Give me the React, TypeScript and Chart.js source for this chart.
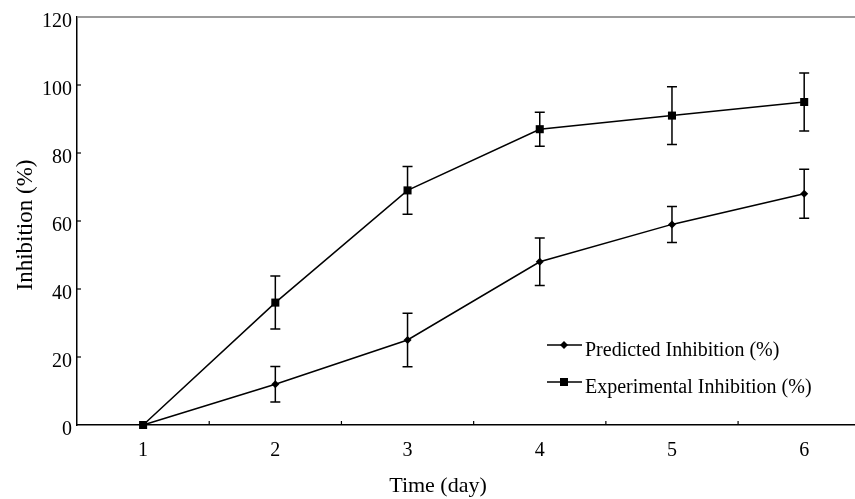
import React, { useEffect, useRef } from "react";
import { Chart, registerables } from "chart.js";

Chart.register(...registerables);

const days = [1, 2, 3, 4, 5, 6];
const predicted = [0, 12, 25, 48, 59, 68];
const predictedErr = [0, 5.2, 7.9, 7, 5.3, 7.2];
const experimental = [0, 36, 69, 87, 91, 95];
const experimentalErr = [0, 7.8, 7, 5, 8.5, 8.5];
const yTicks = [0, 20, 40, 60, 80, 100, 120];
const seriesNames = ["Predicted Inhibition (%)", "Experimental Inhibition (%)"];
const xTitle = "Time (day)";
const yTitle = "Inhibition (%)";

const FONT = "'Liberation Serif', 'Times New Roman', serif";

const extrasPlugin = {
  id: "extras",
  afterDatasetsDraw(chart: any) {
    const { ctx, chartArea } = chart;
    const xs = chart.scales.x;
    const ys = chart.scales.y;
    ctx.save();
    // top gray border
    ctx.strokeStyle = "#7a7a7a";
    ctx.lineWidth = 1.5;
    ctx.beginPath();
    ctx.moveTo(chartArea.left, chartArea.top);
    ctx.lineTo(chartArea.right + 10, chartArea.top);
    ctx.stroke();

    ctx.strokeStyle = "#000";
    ctx.lineWidth = 1.2;
    // inward y ticks
    yTicks.forEach((v) => {
      if (v === 0 || v === 120) return;
      const py = ys.getPixelForValue(v);
      ctx.beginPath();
      ctx.moveTo(chartArea.left, py);
      ctx.lineTo(chartArea.left + 4, py);
      ctx.stroke();
    });
    // inward x ticks between categories
    for (let i = 0; i < days.length - 1; i++) {
      const px = xs.getPixelForValue((days[i] + days[i + 1]) / 2);
      ctx.beginPath();
      ctx.moveTo(px, chartArea.bottom);
      ctx.lineTo(px, chartArea.bottom - 4);
      ctx.stroke();
    }

    // error bars
    ctx.lineWidth = 1.5;
    const drawErr = (vals: number[], errs: number[]) => {
      vals.forEach((v, i) => {
        const e = errs[i];
        if (!e) return;
        const px = xs.getPixelForValue(days[i]);
        const pt = ys.getPixelForValue(v + e);
        const pb = ys.getPixelForValue(v - e);
        ctx.beginPath();
        ctx.moveTo(px, pt);
        ctx.lineTo(px, pb);
        ctx.moveTo(px - 5, pt);
        ctx.lineTo(px + 5, pt);
        ctx.moveTo(px - 5, pb);
        ctx.lineTo(px + 5, pb);
        ctx.stroke();
      });
    };
    drawErr(predicted, predictedErr);
    drawErr(experimental, experimentalErr);

    // legend
    const lx = chartArea.left + 470;
    const rows = [chartArea.top + 328, chartArea.top + 365];
    ctx.font = `20px ${FONT}`;
    ctx.fillStyle = "#000";
    ctx.textAlign = "left";
    ctx.textBaseline = "alphabetic";
    rows.forEach((ry, i) => {
      ctx.lineWidth = 1.5;
      ctx.beginPath();
      ctx.moveTo(lx, ry);
      ctx.lineTo(lx + 35, ry);
      ctx.stroke();
      const cx = lx + 17;
      ctx.beginPath();
      if (i === 0) {
        ctx.moveTo(cx, ry - 4);
        ctx.lineTo(cx + 4, ry);
        ctx.lineTo(cx, ry + 4);
        ctx.lineTo(cx - 4, ry);
        ctx.closePath();
      } else {
        ctx.rect(cx - 4, ry - 4, 8, 8);
      }
      ctx.fill();
      ctx.fillText(seriesNames[i], lx + 38, ry + 11);
    });

    // axis titles
    ctx.textAlign = "center";
    ctx.font = `22px ${FONT}`;
    ctx.fillText(xTitle, 438, 492);
    ctx.translate(32, 225);
    ctx.rotate(-Math.PI / 2);
    ctx.font = `23px ${FONT}`;
    ctx.fillText(yTitle, 0, 0);
    ctx.restore();
  },
};

export default function App() {
  const ref = useRef<HTMLCanvasElement | null>(null);
  useEffect(() => {
    if (!ref.current) return;
    const chart = new Chart(ref.current, {
      type: "line",
      data: {
        datasets: [
          {
            label: seriesNames[0],
            data: days.map((d, i) => ({ x: d, y: predicted[i] })),
            borderColor: "#000",
            backgroundColor: "#000",
            borderWidth: 1.5,
            pointStyle: "rectRot",
            pointRadius: 4,
            pointBackgroundColor: "#000",
            pointBorderColor: "#000",
            pointBorderWidth: 0,
            tension: 0,
            clip: false as any,
          },
          {
            label: seriesNames[1],
            data: days.map((d, i) => ({ x: d, y: experimental[i] })),
            borderColor: "#000",
            backgroundColor: "#000",
            borderWidth: 1.5,
            pointStyle: "rect",
            pointRadius: 5.7,
            pointBackgroundColor: "#000",
            pointBorderColor: "#000",
            pointBorderWidth: 0,
            tension: 0,
            clip: false as any,
          },
        ],
      },
      options: {
        responsive: false,
        animation: false,
        devicePixelRatio: 1,
        layout: { padding: { top: 16, right: 2, left: 0, bottom: 0 } },
        plugins: { legend: { display: false }, tooltip: { enabled: false } },
        scales: {
          x: {
            type: "linear",
            min: 0.5,
            max: 6.5,
            grid: { display: false, drawTicks: false },
            border: { display: true, color: "#000", width: 1.5 },
            afterBuildTicks: (s: any) => {
              s.ticks = days.map((d) => ({ value: d }));
            },
            ticks: {
              autoSkip: false,
              maxRotation: 0,
              color: "#000",
              font: { family: FONT, size: 20 },
              padding: 14,
              callback: (v: any) => String(v),
            },
            title: { display: false },
            afterFit: (s: any) => {
              s.height = 74;
            },
          },
          y: {
            min: 0,
            max: 120,
            grid: { display: false, drawTicks: false },
            border: { display: true, color: "#000", width: 1.5 },
            ticks: {
              stepSize: 20,
              color: "#000",
              font: { family: FONT, size: 20 },
              padding: 5,
              labelOffset: 5,
              callback: (v: any) => (yTicks.includes(v) ? String(v) : ""),
            },
            title: { display: false },
            afterFit: (s: any) => {
              s.width = 77;
            },
          },
        },
      },
      plugins: [extrasPlugin],
    });
    return () => chart.destroy();
  }, []);
  return (
    <div
      style={{
        position: "absolute",
        left: 0,
        top: 0,
        width: 855,
        height: 499,
        overflow: "hidden",
        background: "#fff",
      }}
    >
      <div style={{ width: 876, height: 499 }}>
        <canvas ref={ref} width={876} height={499} style={{ display: "block" }} />
      </div>
    </div>
  );
}
